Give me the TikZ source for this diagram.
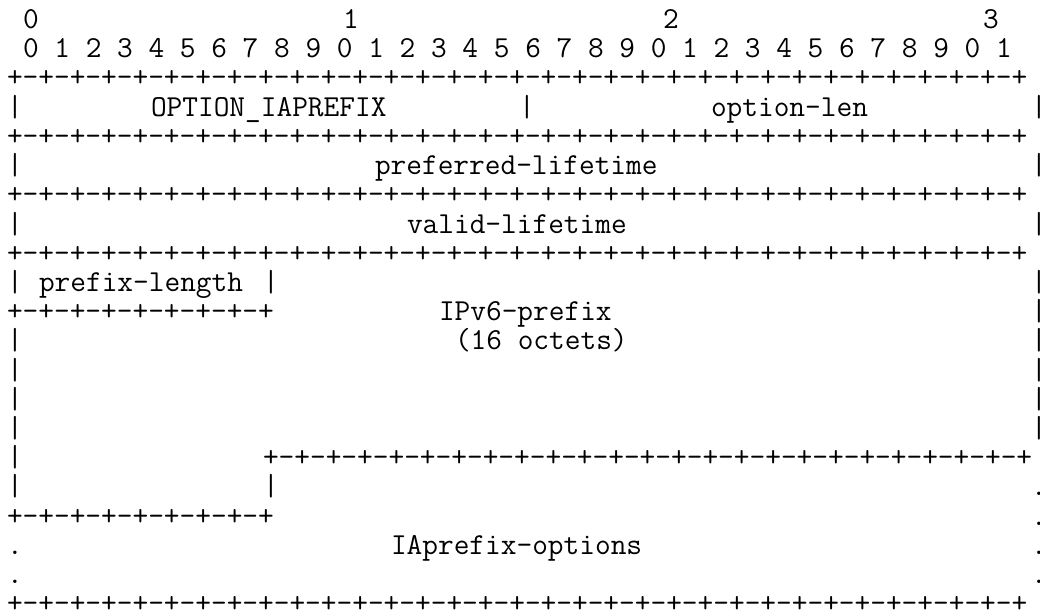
\documentclass[tikz,border=0pt]{standalone}
\newcommand\pmeight{+-+-+-+-}
\newcommand\fullrow{\pmeight\pmeight\pmeight\pmeight\pmeight\pmeight\pmeight\pmeight+}
\newcommand\halfrow{\pmeight\pmeight+}
\newcommand\rightrow{\pmeight\pmeight\pmeight\pmeight\pmeight\pmeight+}
\newcommand\tx[4]{\node[ascii] (#1) at ({7+16*#2},{-(28.6+29.2*#3)}) {#4};}
\begin{document}
\begin{tikzpicture}[x=1pt,y=1pt,
  ascii/.style={anchor=base west,inner sep=0pt,outer sep=0pt,text=black,
    font=\ttfamily\fontsize{30.48pt}{29.2pt}\selectfont}]
\fill[white] (0,0) rectangle (1040,-615);
\useasboundingbox (0,0) rectangle (1040,-615);
% header
\tx{h0}{1}{0}{0}
\tx{h1}{21}{0}{1}
\tx{h2}{41}{0}{2}
\tx{h3}{61}{0}{3}
\tx{bits}{1}{1}{0 1 2 3 4 5 6 7 8 9 0 1 2 3 4 5 6 7 8 9 0 1 2 3 4 5 6 7 8 9 0 1}
\tx{r2}{0}{2}{\fullrow}
% line 3
\tx{p3a}{0}{3}{|}
\tx{opt}{9}{3}{OPTION\_IAPREFIX}
\tx{p3b}{32}{3}{|}
\tx{olen}{44}{3}{option-len}
\tx{p3c}{64}{3}{|}
\tx{r4}{0}{4}{\fullrow}
\tx{p5a}{0}{5}{|}
\tx{pref}{23}{5}{preferred-lifetime}
\tx{p5b}{64}{5}{|}
\tx{r6}{0}{6}{\fullrow}
\tx{p7a}{0}{7}{|}
\tx{valid}{25}{7}{valid-lifetime}
\tx{p7b}{64}{7}{|}
\tx{r8}{0}{8}{\fullrow}
\tx{p9a}{0}{9}{|}
\tx{plen}{2}{9}{prefix-length}
\tx{p9b}{16}{9}{|}
\tx{p9c}{64}{9}{|}
\tx{r10}{0}{10}{\halfrow}
\tx{ipv6}{27}{10}{IPv6-prefix}
\tx{p10}{64}{10}{|}
\tx{p11a}{0}{11}{|}
\tx{oct}{28}{11}{(16 octets)}
\tx{p11b}{64}{11}{|}
\tx{p12a}{0}{12}{|}
\tx{p12b}{64}{12}{|}
\tx{p13a}{0}{13}{|}
\tx{p13b}{64}{13}{|}
\tx{p14a}{0}{14}{|}
\tx{p14b}{64}{14}{|}
\tx{p15}{0}{15}{|}
\tx{r15}{16}{15}{\rightrow}
\tx{p16a}{0}{16}{|}
\tx{p16b}{16}{16}{|}
\tx{d16}{64}{16}{.}
\tx{r17}{0}{17}{\halfrow}
\tx{d17}{64}{17}{.}
\tx{d18a}{0}{18}{.}
\tx{iaopt}{24}{18}{IAprefix-options}
\tx{d18b}{64}{18}{.}
\tx{d19a}{0}{19}{.}
\tx{d19b}{64}{19}{.}
\tx{r20}{0}{20}{\fullrow}
\end{tikzpicture}
\end{document}
